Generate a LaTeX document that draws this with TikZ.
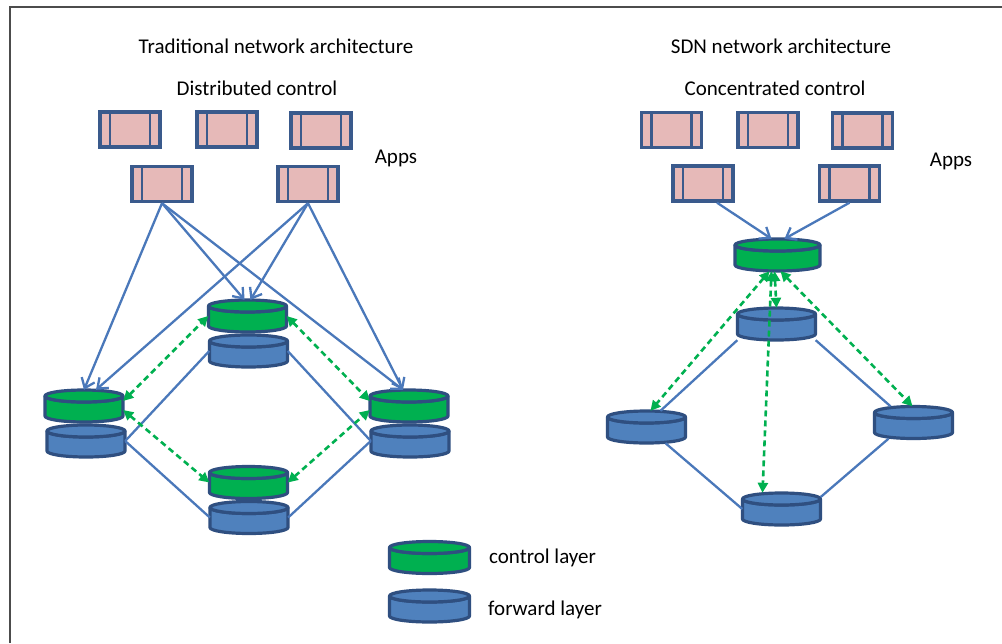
\documentclass[tikz,border=0pt]{standalone}
\usepackage{fontspec}
\setmainfont{Carlito}
\usetikzlibrary{arrows.meta}
\definecolor{pinkfill}{HTML}{E6B9B8}
\definecolor{boxline}{HTML}{3A5A8C}
\definecolor{cylblue}{HTML}{4F81BD}
\definecolor{cylline}{HTML}{2F4F80}
\definecolor{cylgreen}{HTML}{00B050}
\definecolor{conblue}{HTML}{4A78BA}
\definecolor{dashgreen}{HTML}{00B050}
\tikzset{
 app/.style={draw=boxline, fill=pinkfill, line width=3.4pt, minimum width=60pt, minimum height=35pt, inner sep=0pt,
   path picture={\draw[boxline, line width=2.4pt] ([xshift=10pt]path picture bounding box.north west) -- ([xshift=10pt]path picture bounding box.south west);
                 \draw[boxline, line width=2.4pt] ([xshift=-10pt]path picture bounding box.north east) -- ([xshift=-10pt]path picture bounding box.south east);}},
 cylstyle/.style={draw=cylline, line width=3.2pt, line join=round},
 cylbox/.style={rectangle, inner sep=0pt, minimum height=32pt},
 link/.style={draw=conblue, line width=2.3pt},
 feed/.style={link, -{Straight Barb[length=9pt,width=14pt]}},
 ctrl/.style={draw=dashgreen, line width=2.6pt, dash pattern=on 6pt off 4pt, {Triangle[length=10pt,width=10pt]}-{Triangle[length=10pt,width=10pt]}},
 lbl/.style={font=\fontsize{21}{25}\selectfont, inner sep=0pt, text=black},
}
\newcommand\cylinderat[5]{%
 \begin{scope}[shift={(#2,#3)}]
  \pgfmathsetmacro\hw{#5/2}
  \path[cylstyle, fill=#4] (-\hw,10) -- (-\hw,-10) arc[start angle=180,end angle=360,x radius=\hw,y radius=6] -- (\hw,10) arc[start angle=0,end angle=-180,x radius=\hw,y radius=6] -- cycle;
  \path[cylstyle, fill=#4] (0,10) ellipse[x radius=\hw, y radius=6];
  \node[cylbox, minimum width=#5pt] (#1) at (0,0) {};
 \end{scope}}
\begin{document}
\begin{tikzpicture}[x=1pt,y=1pt]
\useasboundingbox (0,0) rectangle (1002,-643);
\fill[white] (0,0) rectangle (1002,-643);
\draw[line width=1.5pt, black!70] (10,-643) -- (10,-7) -- (1002,-7);

% titles
\node[lbl] (t1) at (276,-46) {Traditional network architecture};
\node[lbl] (t2) at (257,-88) {Distributed control};
\node[lbl] (t3) at (396,-158) {Apps};
\node[lbl] (s1) at (781,-46) {SDN network architecture};
\node[lbl] (s2) at (775,-88) {Concentrated control};
\node[lbl] (s3) at (951,-161) {Apps};

% apps left
\node[app] (a1) at (130,-129.5) {};
\node[app] (a2) at (227,-129.5) {};
\node[app] (a3) at (321,-130.5) {};
\node[app] (a4) at (162,-184) {};
\node[app] (a5) at (308,-184) {};
% apps right
\node[app] (b1) at (671.5,-130) {};
\node[app] (b2) at (768,-130) {};
\node[app] (b3) at (862.5,-130.5) {};
\node[app] (b4) at (703,-183.5) {};
\node[app] (b5) at (849.5,-183.5) {};

% cylinders left
\cylinderat{TG}{247.5}{-316}{cylgreen}{78}
\cylinderat{TB}{248.5}{-351}{cylblue}{78}
\cylinderat{LG}{84}{-406}{cylgreen}{78}
\cylinderat{LB}{86}{-441}{cylblue}{78}
\cylinderat{BG}{248.5}{-482.5}{cylgreen}{78}
\cylinderat{BB}{249}{-517.5}{cylblue}{78}
\cylinderat{RG}{409}{-406}{cylgreen}{78}
\cylinderat{RB}{410}{-441}{cylblue}{78}
% cylinders right
\cylinderat{CG}{777.5}{-255}{cylgreen}{85}
\cylinderat{T}{776.5}{-324}{cylblue}{78}
\cylinderat{L}{646.5}{-427}{cylblue}{78}
\cylinderat{R}{913.5}{-422.5}{cylblue}{78}
\cylinderat{B}{781.5}{-509}{cylblue}{78}
% legend
\cylinderat{KG}{429.5}{-557.5}{cylgreen}{80}
\cylinderat{KB}{429.5}{-606}{cylblue}{80}
\node[lbl, anchor=west] (k1) at (489,-558) {control layer};
\node[lbl, anchor=west] (k2) at (488,-610) {forward layer};

% left links
\draw[link] (TB.west) -- (LB.east);
\draw[link] (LB.east) -- (BB.west);
\draw[link] (TB.east) -- (RB.west);
\draw[link] (BB.east) -- (RB.west);
\draw[feed] (a4.south) -- (LG.north);
\draw[feed] (a4.south) -- ([xshift=-3pt]TG.north);
\draw[feed] (a4.south) -- ([xshift=-6pt]RG.north);
\draw[feed] (a5.south) -- ([xshift=12pt]LG.north);
\draw[feed] (a5.south) -- ([xshift=3pt]TG.north);
\draw[feed] (a5.south) -- ([xshift=-6pt]RG.north);
\draw[ctrl] ([yshift=5pt]LG.east) -- (TG.west);
\draw[ctrl] ([yshift=-4pt]LG.east) -- (BG.west);
\draw[ctrl] (TG.east) -- ([yshift=5pt]RG.west);
\draw[ctrl] (BG.east) -- ([yshift=-4pt]RG.west);

% right links
\draw[link] (T.south west) -- ([xshift=14pt]L.north);
\draw[link] (T.south east) -- ([xshift=-23pt]R.north);
\draw[link] ([xshift=19pt]L.south) -- (B.west);
\draw[link] ([xshift=-25pt]R.south) -- ([yshift=12pt]B.east);
\draw[feed] ([xshift=14pt]b4.south) -- ([xshift=-6pt]CG.north);
\draw[feed] (b5.south) -- ([xshift=7pt]CG.north);
\draw[ctrl] ([xshift=-8pt]CG.south) -- ([xshift=4pt]L.north);
\draw[ctrl] ([xshift=-3pt]CG.south) -- (T.north);
\draw[ctrl] ([xshift=-6pt]CG.south) -- ([xshift=-19pt]B.north);
\draw[ctrl] ([xshift=3pt]CG.south) -- ([xshift=-1pt]R.north);
\end{tikzpicture}
\end{document}
